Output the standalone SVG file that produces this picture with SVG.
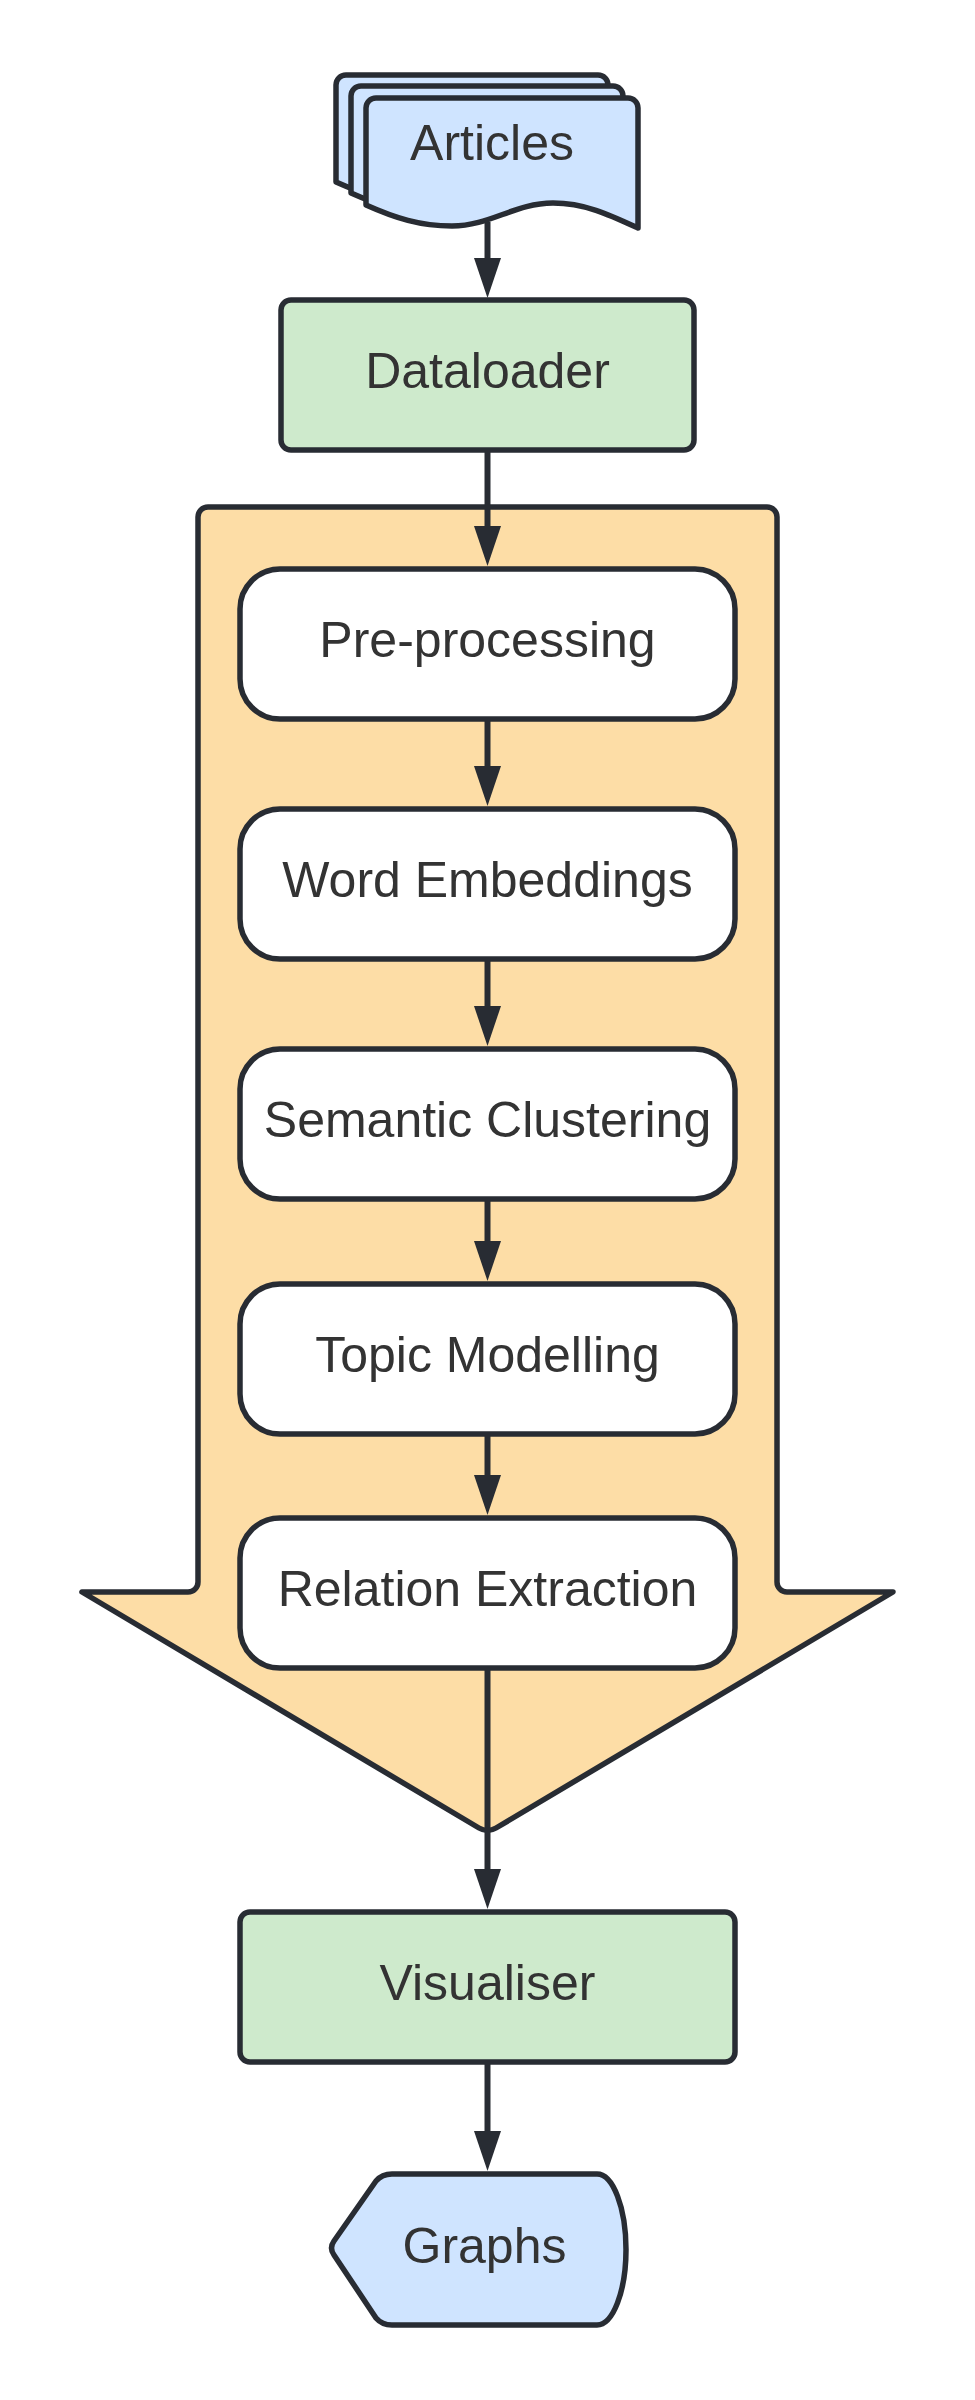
<svg xmlns="http://www.w3.org/2000/svg" width="975" height="2400" viewBox="0 0 975 2400">
  <style>
    .shape { stroke: #282C33; stroke-width: 5.5; stroke-linejoin: round; }
    .blue { fill: #CFE4FF; }
    .green { fill: #CEEACC; }
    .orange { fill: #FDDDA6; }
    .white { fill: #FFFFFF; }
    .label { font-family: "Liberation Sans", Arial, sans-serif; font-size: 50px; fill: #333333; text-anchor: middle; }
    .conn { stroke: #282C33; stroke-width: 6; fill: none; }
  </style>
  <defs>
    <marker id="arr" viewBox="0 0 40 27" refX="0" refY="13.5" markerWidth="40" markerHeight="27" markerUnits="userSpaceOnUse" orient="auto">
      <path d="M0,0 L40,13.5 L0,27 Z" fill="#282C33"/>
    </marker>
    <path id="page" d="M366,205 V108 A10,10 0 0 1 376,98 H628 A10,10 0 0 1 638,108 V228 C610,215 585,203 553,203 C515,203 490,226 452,226 C420,226 395,218 366,205 Z"/>
  </defs>

  <rect width="975" height="2400" fill="#FFFFFF"/>

  <g id="articles">
    <use href="#page" class="shape blue" transform="translate(-30,-23)"/>
    <use href="#page" class="shape blue" transform="translate(-15,-12)"/>
    <use href="#page" class="shape blue"/>
    <text class="label" x="492" y="160">Articles</text>
  </g>

  <g id="dataloader">
    <rect class="shape green" x="281" y="300" width="413" height="150" rx="10" ry="10"/>
    <text class="label" x="487.5" y="388">Dataloader</text>
  </g>

  <g id="pipeline-arrow">
    <path class="shape orange" d="M198,517 A10,10 0 0 1 208,507 H767 A10,10 0 0 1 777,517 V1582 A10,10 0 0 0 787,1592 H893 L496,1828 Q487.5,1833 479,1828 L82,1592 H188 A10,10 0 0 0 198,1582 Z"/>
  </g>

  <g id="preprocessing">
    <rect class="shape white" x="240" y="569" width="495" height="150" rx="40" ry="40"/>
    <text class="label" x="487.5" y="657">Pre-processing</text>
  </g>

  <g id="word-embeddings">
    <rect class="shape white" x="240" y="809" width="495" height="150" rx="40" ry="40"/>
    <text class="label" x="487.5" y="897">Word Embeddings</text>
  </g>

  <g id="semantic-clustering">
    <rect class="shape white" x="240" y="1049" width="495" height="150" rx="40" ry="40"/>
    <text class="label" x="487.5" y="1137">Semantic Clustering</text>
  </g>

  <g id="topic-modelling">
    <rect class="shape white" x="240" y="1284" width="495" height="150" rx="40" ry="40"/>
    <text class="label" x="487.5" y="1372">Topic Modelling</text>
  </g>

  <g id="relation-extraction">
    <rect class="shape white" x="240" y="1518" width="495" height="150" rx="40" ry="40"/>
    <text class="label" x="487.5" y="1606">Relation Extraction</text>
  </g>

  <g id="visualiser">
    <rect class="shape green" x="240" y="1912" width="495" height="150" rx="10" ry="10"/>
    <text class="label" x="487.5" y="2000">Visualiser</text>
  </g>

  <g id="graphs">
    <path class="shape blue" d="M597,2174 A29,75.5 0 0 1 597,2325 H392 Q382,2325 376,2318 L334,2255 Q329,2248 334,2241 L376,2181 Q382,2174 392,2174 Z"/>
    <text class="label" x="484.5" y="2263">Graphs</text>
  </g>

  <g id="connectors">
    <line class="conn" x1="487.5" y1="222" x2="487.5" y2="258" marker-end="url(#arr)"/>
    <line class="conn" x1="487.5" y1="452" x2="487.5" y2="526" marker-end="url(#arr)"/>
    <line class="conn" x1="487.5" y1="721" x2="487.5" y2="766" marker-end="url(#arr)"/>
    <line class="conn" x1="487.5" y1="961" x2="487.5" y2="1006" marker-end="url(#arr)"/>
    <line class="conn" x1="487.5" y1="1201" x2="487.5" y2="1241" marker-end="url(#arr)"/>
    <line class="conn" x1="487.5" y1="1436" x2="487.5" y2="1475" marker-end="url(#arr)"/>
    <line class="conn" x1="487.5" y1="1670" x2="487.5" y2="1869" marker-end="url(#arr)"/>
    <line class="conn" x1="487.5" y1="2064" x2="487.5" y2="2131" marker-end="url(#arr)"/>
  </g>
</svg>
